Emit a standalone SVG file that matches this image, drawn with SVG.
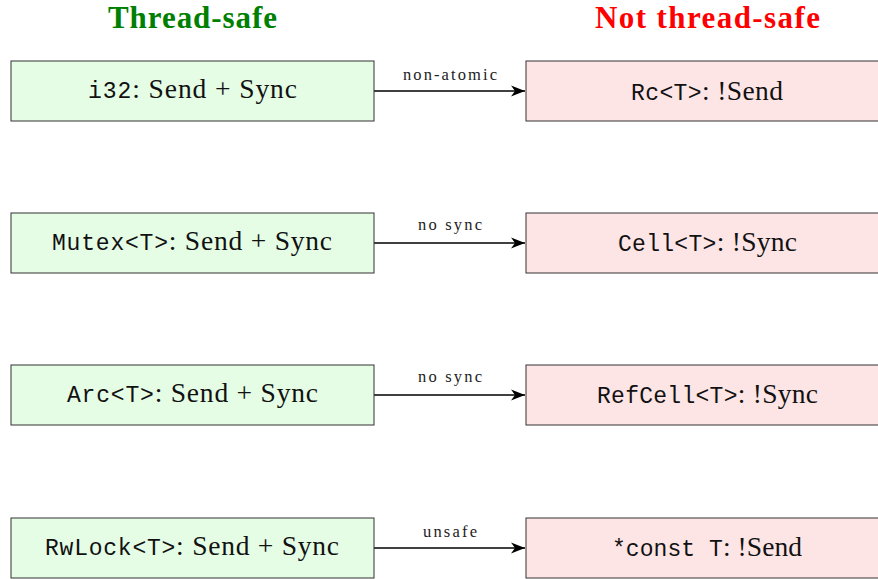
<svg xmlns="http://www.w3.org/2000/svg" width="878" height="579" viewBox="0 0 878 579">
<style>
.safe{fill:#e5fce5;stroke:#333;stroke-width:1}
.unsafe{fill:#fde5e6;stroke:#333;stroke-width:1}
.lbl{font-family:"Liberation Serif",serif;font-size:27.5px;fill:#111}
.mono{font-family:"Liberation Mono",monospace;font-size:23px}
.title{font-family:"Liberation Serif",serif;font-size:31px;font-weight:bold}
.edge{stroke:#000;stroke-width:1.5;fill:none;marker-end:url(#ah)}
.elbl{font-family:"Liberation Serif",serif;font-size:16.5px;fill:#222}
</style>
<defs>
<marker id="ah" markerUnits="userSpaceOnUse" markerWidth="16" markerHeight="12" viewBox="-15 -6 16 12" refX="0" refY="0" orient="auto">
<path d="M0,0 L-14,-5.5 L-10,0 L-14,5.5 Z" fill="#000"/>
</marker>
</defs>
<rect width="878" height="579" fill="#fff"/>
<text class="title" x="108" y="28" fill="#008000" textLength="169" lengthAdjust="spacing">Thread-safe</text>
<text class="title" x="595" y="28" fill="#ff0000" textLength="225" lengthAdjust="spacing">Not thread-safe</text>
<g id="connectors">
<path class="edge" d="M374,91 H525"/>
<text class="elbl" x="403" y="80" textLength="94" lengthAdjust="spacing">non-atomic</text>
<path class="edge" d="M374,243 H525"/>
<text class="elbl" x="418" y="230" textLength="64" lengthAdjust="spacing">no sync</text>
<path class="edge" d="M374,395 H525"/>
<text class="elbl" x="418" y="382" textLength="64" lengthAdjust="spacing">no sync</text>
<path class="edge" d="M374,548 H525"/>
<text class="elbl" x="423" y="537" textLength="54" lengthAdjust="spacing">unsafe</text>
</g>
<g id="n_i32"><rect class="safe" x="11" y="61" width="363" height="60"/><text class="lbl" x="88" y="98" textLength="209" lengthAdjust="spacing"><tspan class="mono">i32</tspan>: Send + Sync</text></g>
<g id="n_mutex"><rect class="safe" x="11" y="213" width="363" height="60"/><text class="lbl" x="52" y="250" textLength="280" lengthAdjust="spacing"><tspan class="mono">Mutex&lt;T&gt;</tspan>: Send + Sync</text></g>
<g id="n_arc"><rect class="safe" x="11" y="365" width="363" height="60"/><text class="lbl" x="67" y="402" textLength="251" lengthAdjust="spacing"><tspan class="mono">Arc&lt;T&gt;</tspan>: Send + Sync</text></g>
<g id="n_rwlock"><rect class="safe" x="11" y="518" width="363" height="60"/><text class="lbl" x="45" y="555" textLength="294" lengthAdjust="spacing"><tspan class="mono">RwLock&lt;T&gt;</tspan>: Send + Sync</text></g>
<g id="n_rc"><rect class="unsafe" x="526" y="61" width="363" height="60"/><text class="lbl" x="631" y="99.5" textLength="152" lengthAdjust="spacing"><tspan class="mono">Rc&lt;T&gt;</tspan>: !Send</text></g>
<g id="n_cell"><rect class="unsafe" x="526" y="213" width="363" height="60"/><text class="lbl" x="618" y="251" textLength="179" lengthAdjust="spacing"><tspan class="mono">Cell&lt;T&gt;</tspan>: !Sync</text></g>
<g id="n_refcell"><rect class="unsafe" x="526" y="365" width="363" height="60"/><text class="lbl" x="597" y="403" textLength="221" lengthAdjust="spacing"><tspan class="mono">RefCell&lt;T&gt;</tspan>: !Sync</text></g>
<g id="n_const"><rect class="unsafe" x="526" y="518" width="363" height="60"/><text class="lbl" x="612" y="556" textLength="190" lengthAdjust="spacing"><tspan class="mono">*const T</tspan>: !Send</text></g>
</svg>
